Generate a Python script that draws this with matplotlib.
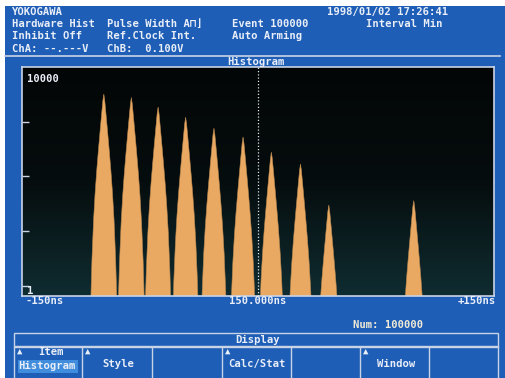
import numpy as np
import matplotlib
matplotlib.use("Agg")
import matplotlib.pyplot as plt
from matplotlib.patches import Rectangle
from matplotlib.lines import Line2D

# peaks (ns relative to centre, counts)
peak_centers = [-98, -80.5, -63.5, -46, -28, -9.5, 8.5, 27, 45, 99]
peak_counts = [3200, 2770, 1850, 1210, 760, 525, 277, 168, 30, 36]
# shared peak profile: offset from centre (ns) -> drop in decades
profile_offset = [0, 0.6, 1.5, 2.5, 3.5, 4.5, 5.5, 6.5, 7.5, 8.2, 8.8]
profile_drop = [0, 0.12, 0.4, 0.72, 1.05, 1.4, 1.8, 2.3, 3.0, 3.7, 5.0]

x_labels = ["-150ns", "150.000ns", "+150ns"]
header_left = ["YOKOGAWA", "Hardware Hist", "Inhibit Off", "ChA: --.---V"]
header_mid = ["Pulse Width A⊓⌋", "Ref.Clock Int.", "ChB:  0.100V"]
header_right = ["Event 100000", "Auto Arming"]
buttons = [("Item", "Histogram"), ("", "Style"), ("", ""), ("", "Calc/Stat"),
           ("", ""), ("", "Window"), ("", "")]
button_arrow = [True, True, False, True, False, True, False]

W, H = 506, 378
BLUE = "#1e5eb6"
TXT = "#e9eef8"
LINE = "#c9d3e6"
PEAK = "#eaa962"
MONO = "DejaVu Sans Mono"

fig = plt.figure(figsize=(W / 100, H / 100), dpi=100)
fig.patch.set_facecolor("white")


def fx(x):
    return x / W


def fy(y):
    return 1 - y / H


def txt(x, y, s, ha="left", color=TXT, size=7.6, **kw):
    fig.text(fx(x), fy(y), s, ha=ha, va="center", color=color, fontsize=size,
             family=MONO, fontweight="bold", **kw)


def hline(x0, x1, y, color=LINE, lw=1.0):
    fig.add_artist(Line2D([fx(x0), fx(x1)], [fy(y), fy(y)], color=color, lw=lw))


def vline(x, y0, y1, color=LINE, lw=1.0):
    fig.add_artist(Line2D([fx(x), fx(x)], [fy(y0), fy(y1)], color=color, lw=lw))


# blue screen with white photo margin at top/left
fig.add_artist(Rectangle((fx(5), 0), 1, fy(6), transform=fig.transFigure,
                         facecolor=BLUE, edgecolor="none", zorder=-5))

# header
for i, s in enumerate(header_left):
    txt(12, 12 + i * 12.2, s)
for i, s in enumerate(header_mid):
    txt(107, 24.2 + i * 12.2, s)
for i, s in enumerate(header_right):
    txt(232, 24.2 + i * 12.2, s)
txt(327, 12, "1998/01/02 17:26:41")
txt(366, 24.2, "Interval Min")
hline(5, 500, 55.5, lw=1.2)
txt(256, 61.5, "Histogram", ha="center")

# histogram plot area
ax = fig.add_axes([fx(22), fy(296), fx(494) - fx(22), fy(67) - fy(296)])
ax.set_facecolor("#040808")
grad = np.linspace(0, 1, 100).reshape(-1, 1)
ax.imshow(grad, extent=[0, 1, 0, 1], transform=ax.transAxes, aspect="auto",
          cmap=matplotlib.colors.LinearSegmentedColormap.from_list(
              "scr", ["#0f2c30", "#060d0e", "#030606"]),
          origin="lower", zorder=0)
ax.set_yscale("log")
ax.set_xlim(-150, 150)
ax.set_ylim(0.648, 10000)

offs = np.array(profile_offset)
drop = np.array(profile_drop)
for c, h in zip(peak_centers, peak_counts):
    xs = np.concatenate([c - offs[::-1], c + offs[1:]])
    ys = h * 10.0 ** (-np.concatenate([drop[::-1], drop[1:]]))
    ax.fill(np.r_[xs[0], xs, xs[-1]], np.r_[0.1, ys, 0.1], color=PEAK,
            lw=0.4, ec="#b88850", zorder=2)

ax.axvline(0, color="#dfe6ee", lw=0.9, ls=(0, (1, 1.6)), zorder=3)
ax.set_yticks([1, 10, 100, 1000])
ax.yaxis.set_minor_locator(matplotlib.ticker.NullLocator())
ax.tick_params(axis="y", direction="in", length=5, color=LINE, width=1,
               labelleft=False)
ax.set_xticks([])
for sp in ax.spines.values():
    sp.set_color(LINE)
    sp.set_linewidth(1.2)
ax.text(0.01, 0.97, "10000", transform=ax.transAxes, ha="left", va="top",
        color=TXT, fontsize=7.6, family=MONO, fontweight="bold", zorder=4)
ax.text(0.011, 1, "1", transform=ax.get_yaxis_transform(), ha="left", va="top",
        color=TXT, fontsize=7.6, family=MONO, fontweight="bold", zorder=4)

# x labels
txt(26, 301.5, x_labels[0])
txt(258, 301.5, x_labels[1], ha="center")
txt(496, 301.5, x_labels[2], ha="right")
txt(353, 325.5, "Num: 100000", color="#f1ead6")

# menu bar
fig.add_artist(Rectangle((fx(14), fy(345.5)), fx(498) - fx(14), fy(333) - fy(345.5),
                         transform=fig.transFigure, facecolor=BLUE,
                         edgecolor=LINE, lw=1.0))
txt(258, 339.5, "Display", ha="center")
hline(14, 498, 346.5)
edges = [14, 82, 152, 222, 290.5, 360, 429.5, 498]
for x in edges:
    vline(x, 346.5, 378)
for i, (top, main) in enumerate(buttons):
    x0, x1 = edges[i], edges[i + 1]
    if button_arrow[i]:
        txt(x0 + 3, 351.5, "▲", size=6.5)
    if top:
        txt((x0 + x1) / 2 + 3, 352, top, ha="center")
    if main:
        if i == 0:
            fig.add_artist(Rectangle((fx(18), fy(373)), fx(78) - fx(18),
                                     fy(360) - fy(373), transform=fig.transFigure,
                                     facecolor="#3f8ddc", edgecolor="none"))
        txt((x0 + x1) / 2 - (1 if i == 0 else -1), 366 if i == 0 else 364, main,
            ha="center")

fig.savefig("out.png", dpi=100, facecolor=fig.get_facecolor())
